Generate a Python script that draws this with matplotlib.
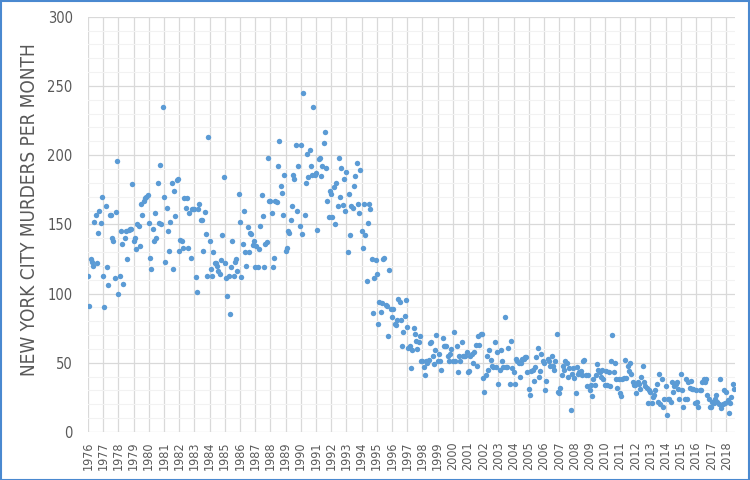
import matplotlib
matplotlib.use("Agg")
import matplotlib.pyplot as plt
import numpy as np
from matplotlib import font_manager
from matplotlib.patches import Rectangle

# monthly murders, one list per year
murders = {
    1976: [113, 91, 125, 123, 120, 152, 157, 122, 144, 160, 151, 170],
    1977: [113, 90, 163, 119, 106, 157, 157, 140, 138, 111, 159, 196],
    1978: [100, 113, 145, 136, 107, 140, 145, 125, 146, 147, 147, 179],
    1979: [138, 140, 132, 150, 149, 134, 165, 157, 167, 169, 170, 171],
    1980: [151, 126, 118, 147, 138, 158, 140, 180, 151, 193, 150, 235],
    1981: [170, 123, 162, 145, 131, 152, 180, 118, 174, 156, 182, 183],
    1982: [131, 139, 138, 133, 169, 162, 169, 133, 158, 126, 161, 161],
    1983: [161, 112, 101, 161, 165, 153, 153, 131, 159, 143, 113, 213],
    1984: [138, 118, 113, 130, 122, 122, 120, 116, 114, 124, 142, 184],
    1985: [122, 111, 98, 113, 85, 119, 138, 113, 123, 125, 116, 172],
    1986: [152, 112, 136, 160, 130, 120, 148, 130, 144, 143, 135, 138],
    1987: [119, 134, 119, 132, 149, 171, 156, 119, 136, 137, 198, 167],
    1988: [167, 158, 119, 126, 167, 166, 192, 210, 178, 173, 157, 186],
    1989: [131, 133, 145, 144, 153, 163, 186, 183, 207, 160, 192, 149],
    1990: [207, 143, 245, 157, 180, 201, 184, 204, 192, 186, 235, 186],
    1991: [187, 146, 197, 198, 185, 192, 209, 217, 191, 167, 155, 174],
    1992: [172, 155, 177, 150, 180, 163, 198, 170, 191, 164, 183, 160],
    1993: [188, 130, 172, 142, 163, 162, 178, 185, 194, 165, 158, 189],
    1994: [145, 133, 165, 142, 109, 151, 165, 161, 125, 86, 111, 124],
    1995: [114, 78, 94, 87, 93, 125, 126, 92, 91, 69, 117, 89],
    1996: [83, 89, 78, 77, 81, 96, 94, 81, 62, 72, 84, 95],
    1997: [76, 61, 62, 46, 59, 75, 71, 66, 60, 65, 69, 51],
    1998: [51, 47, 41, 51, 50, 52, 64, 65, 55, 49, 59, 70],
    1999: [51, 56, 51, 45, 68, 62, 62, 62, 55, 51, 56, 60],
    2000: [51, 72, 51, 62, 43, 55, 51, 65, 55, 55, 55, 58],
    2001: [43, 44, 55, 56, 50, 58, 63, 48, 69, 63, 71, 71],
    2002: [39, 29, 41, 55, 45, 59, 52, 48, 47, 65, 47, 58],
    2003: [35, 45, 59, 51, 47, 83, 47, 47, 61, 35, 66, 46],
    2004: [43, 35, 53, 51, 50, 40, 50, 53, 53, 54, 54, 43],
    2005: [31, 27, 44, 45, 37, 47, 54, 61, 40, 44, 56, 51],
    2006: [50, 30, 37, 53, 51, 48, 55, 48, 45, 51, 71, 29],
    2007: [28, 32, 41, 48, 45, 51, 50, 40, 46, 16, 42, 46],
    2008: [39, 28, 47, 42, 43, 44, 41, 51, 52, 41, 33, 41],
    2009: [30, 34, 26, 38, 34, 41, 49, 45, 43, 40, 45, 38],
    2010: [34, 44, 34, 43, 33, 51, 70, 43, 50, 38, 32, 38],
    2011: [28, 26, 38, 39, 52, 39, 48, 44, 50, 42, 36, 34],
    2012: [34, 28, 36, 35, 31, 40, 48, 36, 33, 32, 21, 30],
    2013: [29, 21, 25, 27, 30, 35, 22, 42, 20, 38, 18, 24],
    2014: [33, 12, 24, 24, 22, 36, 29, 33, 35, 36, 31, 24],
    2015: [42, 30, 18, 24, 38, 24, 36, 32, 37, 31, 31, 21],
    2016: [30, 22, 18, 30, 30, 36, 38, 36, 38, 27, 24, 18],
    2017: [18, 22, 21, 24, 27, 22, 20, 38, 17, 20, 30, 21],
    2018: [29, 23, 14, 21, 25, 35, 31],
}
years = list(range(1976, 2019))
y_ticks = [0, 50, 100, 150, 200, 250, 300]
y_title = "NEW YORK CITY MURDERS PER MONTH"

dates = []
values = []
for yr in years:
    for i, v in enumerate(murders[yr]):
        dates.append(yr + i / 12)
        values.append(v)


def narrow_font():
    # look for any narrow / condensed face on the system
    cands = []
    for f in font_manager.fontManager.ttflist:
        fn = f.fname.lower()
        if ("narrow" in fn or "condensed" in fn) and "bold" not in fn and "italic" not in fn \
                and "oblique" not in fn:
            cands.append(f.fname)
    cands.sort(key=lambda p: (0 if "liberationsansnarrow" in p.lower() else 1, p))
    if cands:
        return font_manager.FontProperties(fname=cands[0])
    return font_manager.FontProperties(family="DejaVu Sans", stretch="condensed")


fp = narrow_font()
gray = "#595959"

fig = plt.figure(figsize=(7.5, 4.8), dpi=100)
ax = fig.add_axes([88 / 750, 48 / 480, 646.7 / 750, 415.3 / 480])

ax.plot(dates, values, "o", color="#5b9bd5", markersize=3.9, markeredgewidth=0, zorder=3)

ax.set_xlim(1976, 2018.55)
ax.set_ylim(0, 300)
ax.set_xticks(years)
ax.set_xticklabels([str(y) for y in years], rotation=90, fontproperties=fp, color=gray)
ax.set_yticks(y_ticks)
ax.set_yticklabels([str(t) for t in y_ticks], fontproperties=fp, color=gray)
ax.set_yticks(np.arange(0, 301, 10), minor=True)
for lab in ax.get_xticklabels():
    lab.set_fontsize(9)
for lab in ax.get_yticklabels():
    lab.set_fontsize(10.5)

ax.grid(True, which="major", color="#d9d9d9", linewidth=0.9, zorder=0)
ax.grid(True, which="minor", axis="y", color="#f2f2f2", linewidth=0.8, zorder=0)
ax.tick_params(axis="both", which="both", length=0)
ax.tick_params(axis="x", pad=7)
ax.tick_params(axis="y", pad=11)
for s in ax.spines.values():
    s.set_visible(False)

# y title placed at its spot in figure pixels, sized to span ~340 px
t = fig.text(30 / 750, 1 - 210 / 480, y_title, rotation=90, ha="center", va="center",
             fontproperties=fp, color=gray)
t.set_fontsize(20)
r = fig.canvas.get_renderer()
h = t.get_window_extent(renderer=r).height
t.set_fontsize(20 * 335 / h)

fig.patches.append(Rectangle((0.001, 0.001), 0.997, 0.996, transform=fig.transFigure,
                             fill=False, edgecolor="#4a89d0", linewidth=1.5))

fig.savefig("out.png", dpi=100)
